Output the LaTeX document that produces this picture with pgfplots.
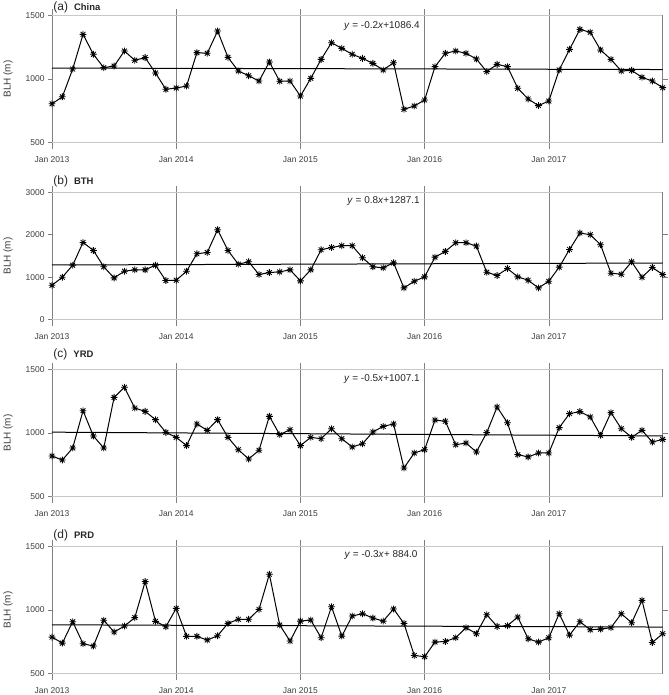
\documentclass[border=0pt]{standalone}
\usepackage{pgfplots}
\pgfplotsset{compat=1.18}
\usepackage{pgfplotstable}
\usepackage{fontspec}
\setmainfont{Liberation Sans}

\pgfdeclareplotmark{ast8}{%
 \pgfpathmoveto{\pgfqpoint{-\pgfplotmarksize}{0pt}}\pgfpathlineto{\pgfqpoint{\pgfplotmarksize}{0pt}}%
 \pgfpathmoveto{\pgfqpoint{0pt}{-\pgfplotmarksize}}\pgfpathlineto{\pgfqpoint{0pt}{\pgfplotmarksize}}%
 \pgfpathmoveto{\pgfqpoint{-0.707\pgfplotmarksize}{-0.707\pgfplotmarksize}}\pgfpathlineto{\pgfqpoint{0.707\pgfplotmarksize}{0.707\pgfplotmarksize}}%
 \pgfpathmoveto{\pgfqpoint{-0.707\pgfplotmarksize}{0.707\pgfplotmarksize}}\pgfpathlineto{\pgfqpoint{0.707\pgfplotmarksize}{-0.707\pgfplotmarksize}}%
 \pgfusepathqstroke}

\pgfplotstableread{
m china bth yrd prd
0 805 810 819 787
1 860 1000 788 740
2 1078 1284 882 908
3 1351 1820 1175 735
4 1194 1631 976 717
5 1089 1245 882 919
6 1102 984 1280 827
7 1220 1142 1359 874
8 1147 1174 1196 940
9 1168 1174 1170 1223
10 1047 1284 1105 911
11 919 921 1005 869
12 929 929 966 1013
13 945 1142 901 793
14 1207 1552 1071 793
15 1202 1584 1021 764
16 1377 2120 1105 798
17 1170 1631 966 895
18 1063 1308 869 927
19 1026 1363 796 927
20 984 1063 864 1005
21 1134 1110 1131 1281
22 982 1126 987 882
23 984 1174 1026 756
24 866 913 901 913
25 1005 1174 966 921
26 1154 1647 955 782
27 1285 1702 1034 1026
28 1241 1742 955 795
29 1194 1742 890 953
30 1162 1458 916 971
31 1123 1245 1008 937
32 1071 1221 1052 913
33 1128 1339 1071 1008
34 762 748 725 895
35 788 905 843 643
36 835 1008 869 633
37 1097 1473 1102 748
38 1202 1608 1092 753
39 1220 1813 908 782
40 1202 1813 921 861
41 1157 1734 851 814
42 1058 1118 1003 963
43 1115 1039 1204 871
44 1097 1205 1081 877
45 927 1008 830 945
46 843 929 812 774
47 791 748 843 748
48 827 905 843 782
49 1071 1237 1042 971
50 1233 1655 1152 803
51 1390 2042 1168 908
52 1367 2002 1126 845
53 1228 1765 982 850
54 1154 1095 1160 861
55 1063 1071 1034 971
56 1068 1363 966 900
57 1013 1000 1021 1076
58 984 1229 929 745
59 932 1063 950 814
}\blh

\definecolor{gridgray}{RGB}{128,128,128}
\definecolor{lightgridgray}{RGB}{200,200,200}
\definecolor{labelgray}{RGB}{60,60,60}

\pgfplotsset{
 panel/.style={
  scale only axis, width=610.7bp, height=140bp,
  anchor=north west,
  xmin=0, xmax=59, clip=false,
  axis line style={draw=none},
  xtick={0,12,24,36,48},
  xticklabels={Jan 2013,Jan 2014,Jan 2015,Jan 2016,Jan 2017},
  xmajorgrids, x grid style={gridgray, line width=0.6bp},
  xtick style={draw=none},
  ytick pos=left, tick align=outside,
  major tick length=4bp,
  ytick style={gridgray, line width=0.6bp},
  tick label style={font=\fontsize{8.5}{10}\selectfont, text=labelgray},
  ylabel={BLH (m)},
  ylabel style={at={(axis description cs:-0.072,0.5)}, anchor=center, font=\fontsize{10}{12}\selectfont, text=labelgray},
 },
}
\tikzset{
 data/.style={black, line width=1bp, mark=ast8, mark size=3.4pt, mark options={line width=0.85bp}},
 trend/.style={black, line width=1bp},
 ttl/.style={anchor=base west, inner sep=0, text=black!85, font=\fontsize{12}{14}\selectfont},
 eqn/.style={anchor=west, inner sep=0, text=black!85, font=\fontsize{10}{12}\selectfont},
}

\begin{document}
\begin{tikzpicture}
\path[use as bounding box] (0,0) rectangle (669bp,-695bp);

% (a) China
\begin{axis}[panel, at={(52bp,-9bp)}, ymin=450, ymax=1550,
  ytick={500,1000,1500}, yticklabels={500,1000,1500}]
\draw[lightgridgray, line width=1bp] (axis cs:0,1500) -- (axis cs:59,1500) (axis cs:0,500) -- (axis cs:59,500);
\draw[gridgray, line width=0.6bp] (axis cs:59,500) -- (axis cs:59,1500) (axis cs:59,1000) -- ([xshift=5bp]axis cs:59,1000);
\addplot[trend, no marks] coordinates {(0,1086.2) (59,1074.4)};
\addplot[data] table[x=m, y=china] {\blh};
\node[ttl] at (rel axis cs:0,1) [xshift=1.3bp, yshift=-1bp] {(a)\hspace{6bp}{\fontsize{9.5}{11}\selectfont\bfseries China}};
\node[eqn] at (rel axis cs:0.478,0.876) {\textit{y} = -0.2\textit{x}+1086.4};
\end{axis}

% (b) BTH
\begin{axis}[panel, at={(52bp,-186bp)}, ymin=-150, ymax=3150,
  ytick={0,1000,2000,3000}, yticklabels={0,1000,2000,3000}]
\draw[lightgridgray, line width=1bp] (axis cs:0,3000) -- (axis cs:59,3000) (axis cs:0,0) -- (axis cs:59,0);
\draw[gridgray, line width=0.6bp] (axis cs:59,0) -- (axis cs:59,3000) (axis cs:59,1000) -- ([xshift=5bp]axis cs:59,1000) (axis cs:59,2000) -- ([xshift=5bp]axis cs:59,2000);
\addplot[trend, no marks] coordinates {(0,1287.9) (59,1335.1)};
\addplot[data] table[x=m, y=bth] {\blh};
\node[ttl] at (rel axis cs:0,1) [xshift=1.3bp, yshift=2bp] {(b)\hspace{6bp}{\fontsize{9.5}{11}\selectfont\bfseries BTH}};
\node[eqn] at (rel axis cs:0.4835,0.89) {\textit{y} = 0.8\textit{x}+1287.1};
\end{axis}

% (c) YRD
\begin{axis}[panel, at={(52bp,-363bp)}, ymin=450, ymax=1550,
  ytick={500,1000,1500}, yticklabels={500,1000,1500}]
\draw[lightgridgray, line width=1bp] (axis cs:0,1500) -- (axis cs:59,1500) (axis cs:0,500) -- (axis cs:59,500);
\draw[gridgray, line width=0.6bp] (axis cs:59,500) -- (axis cs:59,1500) (axis cs:59,1000) -- ([xshift=5bp]axis cs:59,1000);
\addplot[trend, no marks] coordinates {(0,1006.6) (59,977.1)};
\addplot[data] table[x=m, y=yrd] {\blh};
\node[ttl] at (rel axis cs:0,1) [xshift=1.3bp, yshift=6bp] {(c)\hspace{6bp}{\fontsize{9.5}{11}\selectfont\bfseries YRD}};
\node[eqn] at (rel axis cs:0.478,0.888) {\textit{y} = -0.5\textit{x}+1007.1};
\end{axis}

% (d) PRD
\begin{axis}[panel, at={(52bp,-540bp)}, ymin=450, ymax=1550,
  ytick={500,1000,1500}, yticklabels={500,1000,1500}]
\draw[lightgridgray, line width=1bp] (axis cs:0,1500) -- (axis cs:59,1500) (axis cs:0,500) -- (axis cs:59,500);
\draw[gridgray, line width=0.6bp] (axis cs:59,500) -- (axis cs:59,1500) (axis cs:59,1000) -- ([xshift=5bp]axis cs:59,1000);
\addplot[trend, no marks] coordinates {(0,883.7) (59,866.0)};
\addplot[data] table[x=m, y=prd] {\blh};
\node[ttl] at (rel axis cs:0,1) [xshift=1.3bp, yshift=2bp] {(d)\hspace{6bp}{\fontsize{9.5}{11}\selectfont\bfseries PRD}};
\node[eqn] at (rel axis cs:0.479,0.89) {\textit{y} = -0.3\textit{x}+ 884.0};
\end{axis}
\end{tikzpicture}
\end{document}
